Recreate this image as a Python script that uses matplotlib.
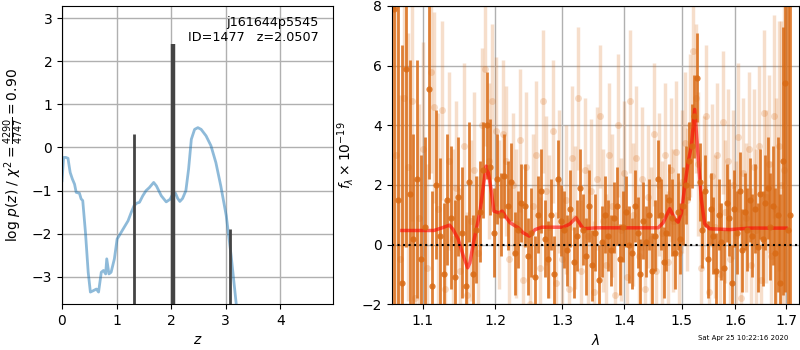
import numpy as np
import matplotlib
matplotlib.use("Agg")
import matplotlib.pyplot as plt
from matplotlib.ticker import FixedLocator, NullLocator, FormatStrFormatter

# redshift probability curve
pz_z = [0.0, 0.03, 0.07, 0.11, 0.13, 0.15, 0.19, 0.23, 0.26, 0.32, 0.35, 0.38, 0.43, 0.48,
        0.52, 0.57, 0.63, 0.67, 0.72, 0.76, 0.80, 0.82, 0.86, 0.90, 0.96, 1.01, 1.05, 1.12,
        1.21, 1.27, 1.32, 1.37, 1.42, 1.48, 1.54, 1.60, 1.68, 1.73, 1.82, 1.91, 1.98, 2.03,
        2.08, 2.12, 2.16, 2.21, 2.27, 2.32, 2.37, 2.43, 2.49, 2.55, 2.64, 2.73, 2.82, 2.91,
        3.01, 3.10, 3.19, 3.30, 3.40]
pz_logp = [-0.77, -0.23, -0.23, -0.25, -0.42, -0.58, -0.73, -0.85, -1.04, -1.06, -1.19, -1.23,
           -1.97, -2.89, -3.35, -3.32, -3.28, -3.35, -2.89, -2.85, -2.93, -2.58, -2.93, -2.89,
           -2.58, -2.12, -2.04, -1.89, -1.70, -1.50, -1.35, -1.29, -1.27, -1.12, -1.00, -0.93,
           -0.81, -0.89, -1.12, -1.26, -1.20, -1.08, -1.06, -1.18, -1.25, -1.18, -1.00, -0.50,
           0.19, 0.42, 0.46, 0.42, 0.27, 0.04, -0.35, -0.89, -1.58, -2.51, -3.59, -5.0, -6.5]

# chi2 peaks
peak_z = [1.32, 2.04, 3.08]
peak_top = [0.32, 2.40, -1.88]
peak_lw = [2.0, 3.2, 2.0]

# best-fit model
model_wave = [1.073, 1.115, 1.126, 1.136, 1.141, 1.148, 1.155, 1.161, 1.164, 1.170, 1.178,
              1.183, 1.187, 1.190, 1.194, 1.198, 1.205, 1.210, 1.216, 1.2215, 1.2337, 1.241,
              1.250, 1.2586, 1.2686, 1.3018, 1.3123, 1.3218, 1.327, 1.3334, 1.3548, 1.4585,
              1.4673, 1.479, 1.4879, 1.4938, 1.4998, 1.5057, 1.5117, 1.5177, 1.5238, 1.530,
              1.536, 1.542, 1.551, 1.589, 1.6274, 1.700]
model_flux = [0.47, 0.47, 0.56, 0.65, 0.50, 0.17, -0.39, -0.78, -0.62, 0.17, 1.06,
              1.96, 2.63, 2.41, 1.85, 1.12, 1.06, 1.12, 0.90, 0.73, 0.56, 0.39,
              0.28, 0.50, 0.58, 0.58, 0.69, 0.90, 0.73, 0.53, 0.56, 0.56,
              0.73, 1.20, 0.86, 0.75, 1.06, 1.96, 2.74, 3.30, 4.53, 2.96,
              1.51, 0.70, 0.53, 0.50, 0.55, 0.55]

# first spectrum (dark)
wave1 = [1.063, 1.068, 1.073, 1.078, 1.083, 1.088, 1.093, 1.098, 1.103, 1.108, 1.113, 1.118,
         1.123, 1.128, 1.133, 1.138, 1.143, 1.148, 1.153, 1.158, 1.163, 1.168, 1.173, 1.178,
         1.183, 1.188, 1.193, 1.198, 1.203, 1.208, 1.213, 1.218, 1.223, 1.228, 1.233, 1.238,
         1.243, 1.248, 1.253, 1.258, 1.263, 1.268, 1.273, 1.278, 1.283, 1.288, 1.293, 1.298,
         1.303, 1.308, 1.313, 1.318, 1.323, 1.328, 1.333, 1.338, 1.343, 1.348, 1.353, 1.358,
         1.363, 1.368, 1.373, 1.378, 1.383, 1.388, 1.393, 1.398, 1.403, 1.408, 1.413, 1.418,
         1.423, 1.428, 1.433, 1.438, 1.443, 1.448, 1.453, 1.458, 1.463, 1.468, 1.473, 1.478,
         1.483, 1.488, 1.493, 1.498, 1.503, 1.508, 1.513, 1.518, 1.523, 1.528, 1.533, 1.538,
         1.543, 1.548, 1.553, 1.558, 1.563, 1.568, 1.573, 1.578, 1.583, 1.588, 1.593, 1.598,
         1.603, 1.608, 1.613, 1.618, 1.623, 1.628, 1.633, 1.638, 1.643, 1.648, 1.653, 1.658,
         1.663, 1.668, 1.673, 1.678, 1.683, 1.688, 1.693, 1.698, 1.703, 1.708]
flux1 = [7.9, 1.5, -1.3, 5.9, 1.7, 0.2, 2.2, -0.5, 0.6, 5.2, -1.4, 2.0,
         0.3, -1.0, 1.5, 0.9, -1.1, 1.6, 0.4, -1.4, 2.1, -1.0, 0.5, 1.1,
         2.5, 4.0, 2.6, 0.4, 2.2, 1.0, 2.3, 1.3, 2.1, -0.3, 0.5, 1.4,
         1.3, -0.4, 0.4, -1.1, 1.0, 1.8, 0.2, -0.5, 1.0, -1.0, 2.2, 0.8,
         0.5, -0.2, 1.2, -0.6, 0.3, 1.9, 0.5, -0.4, 1.3, -0.7, 0.4, -1.2,
         0.1, 1.0, 0.3, -0.2, 0.9, 1.3, -0.5, 0.6, 1.1, 0.0, -0.3, 1.3,
         0.4, -1.0, 0.8, 0.1, 1.0, -0.9, 0.3, 2.2, 1.0, -0.6, 0.4, 1.5,
         0.9, -0.3, 1.1, 0.2, 1.3, 2.0, 2.8, 3.3, 4.3, 5.6, 2.1, 0.5,
         1.8, -0.5, 1.2, 0.3, -0.9, 1.0, 0.1, -0.8, 1.4, 0.9, -1.3, 1.2,
         0.4, 1.8, -0.2, 1.1, 0.5, 1.5, 0.3, 1.2, -0.1, 1.7, 0.2, 1.4,
         1.9, 0.6, 1.3, -0.3, 1.0, -1.3, 2.8, 5.4, 0.5, 1.0]
err1 = [12, 9, 8, 6, 4.5, 3.5, 4, 3.5, 3, 3, 3.2, 2.5,
        2.6, 2.4, 2.2, 2.4, 2.6, 2.0, 2.2, 2.4, 2.0, 2.0, 1.8, 1.7,
        1.6, 1.8, 1.6, 1.5, 1.5, 1.4, 1.4, 1.5, 1.3, 1.4, 1.3, 1.3,
        1.4, 1.3, 1.5, 1.4, 1.3, 1.4, 1.3, 1.3, 1.2, 1.3, 1.3, 1.2,
        1.3, 1.2, 1.3, 1.2, 1.2, 1.3, 1.2, 1.3, 1.2, 1.2, 1.3, 1.2,
        1.2, 1.3, 1.2, 1.2, 1.2, 1.3, 1.2, 1.2, 1.2, 1.3, 1.2, 1.2,
        1.2, 1.2, 1.3, 1.2, 1.2, 1.3, 1.2, 1.3, 1.2, 1.2, 1.3, 1.2,
        1.3, 1.2, 1.3, 1.2, 1.3, 1.3, 1.3, 1.4, 1.4, 1.5, 1.3, 1.3,
        1.2, 1.3, 1.2, 1.3, 1.3, 1.2, 1.3, 1.3, 1.3, 1.3, 1.3, 1.3,
        1.4, 1.3, 1.4, 1.3, 1.4, 1.4, 1.4, 1.5, 1.5, 1.5, 1.6, 1.6,
        1.7, 1.8, 2.0, 2.2, 2.6, 3.0, 4.5, 7, 9, 12]

# second spectrum (light)
wave2 = [1.0655, 1.0705, 1.0755, 1.0805, 1.0855, 1.0905, 1.0955, 1.1005, 1.1055, 1.1105,
         1.1155, 1.1205, 1.1255, 1.1305, 1.1355, 1.1405, 1.1455, 1.1505, 1.1555, 1.1605,
         1.1655, 1.1705, 1.1755, 1.1805, 1.1855, 1.1905, 1.1955, 1.2005, 1.2055, 1.2105,
         1.2155, 1.2205, 1.2255, 1.2305, 1.2355, 1.2405, 1.2455, 1.2505, 1.2555, 1.2605,
         1.2655, 1.2705, 1.2755, 1.2805, 1.2855, 1.2905, 1.2955, 1.3005, 1.3055, 1.3105,
         1.3155, 1.3205, 1.3255, 1.3305, 1.3355, 1.3405, 1.3455, 1.3505, 1.3555, 1.3605,
         1.3655, 1.3705, 1.3755, 1.3805, 1.3855, 1.3905, 1.3955, 1.4005, 1.4055, 1.4105,
         1.4155, 1.4205, 1.4255, 1.4305, 1.4355, 1.4405, 1.4455, 1.4505, 1.4555, 1.4605,
         1.4655, 1.4705, 1.4755, 1.4805, 1.4855, 1.4905, 1.4955, 1.5005, 1.5055, 1.5105,
         1.5155, 1.5205, 1.5255, 1.5305, 1.5355, 1.5405, 1.5455, 1.5505, 1.5555, 1.5605,
         1.5655, 1.5705, 1.5755, 1.5805, 1.5855, 1.5905, 1.5955, 1.6005, 1.6055, 1.6105,
         1.6155, 1.6205, 1.6255, 1.6305, 1.6355, 1.6405, 1.6455, 1.6505, 1.6555, 1.6605,
         1.6655, 1.6705, 1.6755, 1.6805, 1.6855, 1.6905, 1.6955]
flux2 = [3.0, -0.5, 4.9, 2.6, 4.8, -1.8, 0.9, 3.2, -0.8, 5.8,
         4.6, 1.2, 4.5, -1.5, 2.8, 0.2, 1.9, -0.9, 3.3, -1.7,
         0.8, 2.5, -0.3, 4.0, 5.9, 2.8, 4.8, 3.8, 1.0, 3.7,
         2.8, -0.5, 2.0, 0.7, 3.5, -1.2, 2.6, -2.0, 1.3, 3.0,
         -0.8, 4.8, 1.8, 0.6, 3.8, -1.3, 2.1, -0.5, 1.5, -1.5,
         2.9, 0.9, 4.9, -0.9, 2.5, 0.3, 1.8, -1.6, 2.2, 4.3,
         0.8, -0.7, 3.0, 1.3, -1.7, 4.0, 0.5, 2.4, -1.1, 4.8,
         1.0, 2.9, -0.4, 2.2, -1.5, 1.6, 0.2, 3.7, -0.9, 2.0,
         0.4, 3.0, -0.6, 2.5, 0.8, 3.1, -0.3, 2.1, 3.4, 1.5,
         4.0, 6.5, 4.9, 2.7, -0.8, 1.9, 4.3, -1.6, 2.3, 0.6,
         3.0, -1.0, 4.1, 1.1, 2.8, -0.5, 2.0, 0.3, 3.6, -1.8,
         2.4, 0.9, 3.2, -0.7, 2.6, 0.5, 3.3, -1.2, 4.4, 1.6,
         2.7, -0.4, 4.3, 1.2, 3.3, 2.0, 2.5]
err2 = [6, 5.5, 5, 4.5, 4, 4, 3.8, 3.6, 3.5, 3.4,
        3.2, 3.2, 3.0, 3.0, 3.0, 3.0, 2.9, 2.8, 2.8, 2.8,
        2.7, 2.6, 2.6, 2.6, 2.6, 2.6, 2.6, 2.5, 2.5, 2.5,
        2.5, 2.4, 2.4, 2.5, 2.4, 2.4, 2.5, 2.5, 2.4, 2.5,
        2.4, 2.4, 2.5, 2.4, 2.4, 2.4, 2.4, 2.4, 2.5, 2.4,
        2.4, 2.4, 2.4, 2.4, 2.4, 2.4, 2.4, 2.4, 2.4, 2.4,
        2.4, 2.4, 2.4, 2.4, 2.4, 2.4, 2.4, 2.4, 2.4, 2.4,
        2.4, 2.4, 2.4, 2.4, 2.4, 2.4, 2.4, 2.4, 2.4, 2.4,
        2.4, 2.4, 2.4, 2.4, 2.4, 2.4, 2.4, 2.4, 2.4, 2.4,
        2.4, 2.5, 2.5, 2.4, 2.4, 2.4, 2.4, 2.4, 2.4, 2.4,
        2.4, 2.4, 2.4, 2.4, 2.4, 2.4, 2.5, 2.5, 2.5, 2.5,
        2.5, 2.5, 2.6, 2.6, 2.6, 2.7, 2.7, 2.8, 2.8, 2.9,
        3.0, 3.2, 3.4, 3.7, 4.2, 5.5, 7]

obj_name = "j161644p5545"
obj_id = 1477
z_best = 2.0507
stamp = "Sat Apr 25 10:22:16 2020"

spec_color = "#d96a14"

fig = plt.figure(figsize=(8, 3.5), dpi=100)

# --- p(z) panel ---
ax1 = fig.add_axes([0.0775, 0.131, 0.339, 0.852])
ax1.plot(pz_z, pz_logp, color="C0", alpha=0.5, lw=2)
for zp, top, lw in zip(peak_z, peak_top, peak_lw):
    ax1.plot([zp, zp], [-10, top], color="#444444", lw=lw, solid_capstyle="butt")
ax1.set_xlim(0, 4.97)
ax1.set_ylim(-3.63, 3.28)
ax1.set_xticks([0, 1, 2, 3, 4])
ax1.set_yticks([-3, -2, -1, 0, 1, 2, 3])
ax1.grid(True, color="#b0b0b0", lw=1)
ax1.set_axisbelow(True)
ax1.set_xlabel(r"$z$")
ax1.set_ylabel(r"log $p(z)$ / $\chi^2=\frac{4290}{4747}=0.90$")
ax1.text(0.947, 0.967, "{0}\nID={1}   z={2:.4f}".format(obj_name, obj_id, z_best),
         transform=ax1.transAxes, ha="right", va="top", fontsize=9.2)

# --- spectrum panel ---
ax2 = fig.add_axes([0.49, 0.131, 0.509, 0.852])
ax2.errorbar(wave2, flux2, yerr=err2, fmt="o", color=spec_color, alpha=0.22,
             ms=5, elinewidth=2.5, capsize=0, mec="none")
ax2.errorbar(wave1, flux1, yerr=err1, fmt="o", color=spec_color, alpha=0.85,
             ms=4.5, elinewidth=2, capsize=0, mec="none")
ax2.plot(model_wave, model_flux, color="red", alpha=0.6, lw=2.5)
ax2.axhline(0, color="k", ls=":", lw=1.5)

ax2.set_xscale("log")
ax2.set_xlim(1.0604, 1.727)
ax2.set_ylim(-2, 8)
ax2.xaxis.set_major_locator(FixedLocator([1.1, 1.2, 1.3, 1.4, 1.5, 1.6, 1.7]))
ax2.xaxis.set_major_formatter(FormatStrFormatter("%.1f"))
ax2.xaxis.set_minor_locator(NullLocator())
ax2.set_yticks([-2, 0, 2, 4, 6, 8])
ax2.grid(True, color="#b0b0b0", lw=1)
ax2.set_axisbelow(True)
ax2.set_xlabel(r"$\lambda$")
ax2.set_ylabel(r"$f_\lambda\times10^{-19}$")

fig.text(0.985, 0.025, stamp, ha="right", va="bottom", fontsize=5)

fig.savefig("out.png", dpi=100)
